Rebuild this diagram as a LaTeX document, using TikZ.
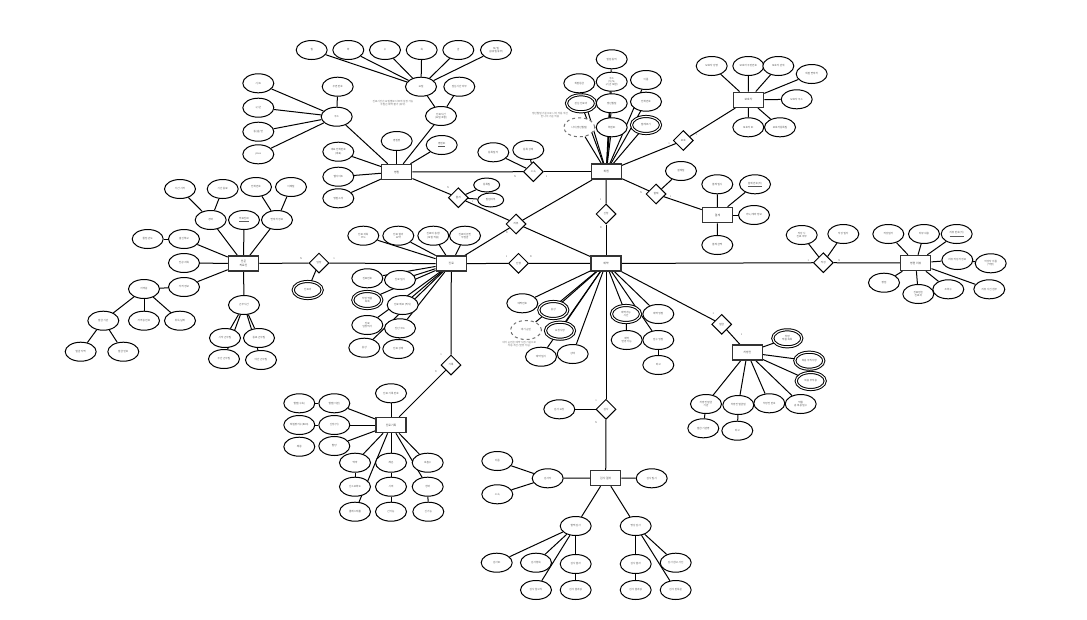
\documentclass[tikz,border=0pt]{standalone}
\usepackage{fontspec}
\newfontfamily\kr{Noto Sans CJK KR}
\usetikzlibrary{shapes.geometric,backgrounds}
\tikzset{
  attr/.style={ellipse, draw, line width=1pt, fill=white, minimum width=31pt, minimum height=19pt, inner sep=0pt, font=\kr\fontsize{2.6}{3.1}\selectfont, text=black!65, align=center},
  mval/.style={attr, double, double distance=1.1pt, minimum width=29pt, minimum height=17pt},
  deriv/.style={attr, dashed, draw=black!55},
  ent/.style={rectangle, draw=black!80, line width=1.5pt, fill=white, minimum width=30pt, minimum height=15pt, inner sep=0pt, font=\kr\fontsize{2.8}{3.2}\selectfont, text=black!70, align=center},
  rel/.style={diamond, draw, line width=1pt, fill=white, minimum width=20pt, minimum height=20pt, inner sep=0pt, font=\kr\fontsize{2.6}{3}\selectfont, text=black!70},
  card/.style={font=\kr\fontsize{2.6}{3}\selectfont, text=black!55, inner sep=0pt},
  note/.style={font=\kr\fontsize{2.6}{3.1}\selectfont, text=black!55, align=center, inner sep=0pt},
  ln/.style={line width=1pt}
}
\begin{document}
\begin{tikzpicture}[x=1pt,y=-1pt]
\useasboundingbox (0,0) rectangle (1087,619);

% ---------- E1 ----------
\node[ent] (E1) at (243.5,263.5) {전문\\의료진};
\node[attr] (p1) at (180,189) {기간 시작};
\node[attr] (p2) at (222.7,189) {기간 종료};
\node[attr] (p3) at (256,187) {전화번호};
\node[attr] (p4) at (291,187) {이메일};
\node[attr] (p5) at (210.7,220) {경력};
\node[attr] (p6) at (244,220) {\underline{의료진ID}};
\node[attr] (p7) at (277,220) {연락처 정보};
\node[attr] (p8) at (147.7,239) {졸업 년도};
\node[attr] (p9) at (184,239) {출신학교};
\node[attr] (p10) at (184,263) {전공 과목};
\node[attr] (p11) at (184,287) {자격 정보};
\node[attr] (p12) at (144,289) {자격증};
\node[attr] (p13) at (103.3,320.7) {발급 기관};
\node[attr] (p14) at (144,320.7) {자격증 번호};
\node[attr] (p15) at (180,320.7) {취득 날짜};
\node[attr] (p16) at (80.7,351.7) {발급 지역};
\node[attr] (p17) at (123.3,351.7) {발급 번호};
\node[attr] (p18) at (244,305) {근무시간};
\node[attr] (p19) at (225,338) {시작 근무일};
\node[attr] (p20) at (259,338) {종료 근무일};
\node[attr] (p21) at (224,359) {주간 근무일};
\node[attr] (p22) at (261,360) {야간 근무일};
\node[rel] (R1) at (319,263) {담당};
\node[mval] (pm1) at (307.7,290) {진료과};

% ---------- E3 ----------
\node[ent] (E3) at (396.7,172) {병원};
\node[attr] (d1) at (311.7,50) {월};
\node[attr] (d2) at (348.3,50) {화};
\node[attr] (d3) at (385,50) {수};
\node[attr] (d4) at (421.7,50) {목};
\node[attr] (d5) at (458.3,50) {금};
\node[attr] (d6) at (496,50) {토/일\\(공휴일 휴무)};
\node[attr] (dh1) at (421,86.7) {요일};
\node[attr] (dh2) at (459.3,86.7) {점심시간 여부};
\node[attr] (dh3) at (441,116) {진료시간\\(요일 포함)};
\node[attr] (ad0) at (336.7,116.7) {주소};
\node[attr] (ad1) at (337.7,86.7) {우편 번호};
\node[attr] (ad2) at (258.3,83.3) {시/도};
\node[attr] (ad3) at (258.3,107.7) {구/군};
\node[attr] (ad4) at (258.3,131.7) {동/읍/면};
\node[attr] (ad5) at (258.3,154.3) {pass};
\node[attr] (h1) at (396.7,141) {병원명};
\node[attr] (h2) at (441.7,145) {\underline{병원ID}};
\node[attr] (h3) at (338.3,151.7) {대표 전화번호\\(대표)};
\node[attr] (h4) at (338.3,176.7) {웹사이트};
\node[attr] (h5) at (338.3,198.3) {병원소개};
\node[note] at (393,103) {진료시간은 요일별로 다르게 설정 가능\\주말은 예약 불가 (휴무)};
\node[rel] (R2) at (533.3,171.7) {소속};
\node[attr] (s1) at (493.3,152.3) {등록일 자};
\node[attr] (s2) at (528.3,150) {등록 상태};
\node[rel] (R3) at (458.3,197.7) {즐겨};
\node[attr, minimum width=26pt, minimum height=14pt] (s3) at (486.7,185) {등록일};
\node[attr, minimum width=26pt, minimum height=14pt] (s4) at (490.7,200) {알림여부};

% ---------- E4 ----------
\node[ent] (E4) at (606.3,171.7) {회원};
\node[attr] (m1) at (611.7,59.3) {알림 동의};
\node[attr] (m2) at (579.3,83.3) {회원등급};
\node[attr] (m3) at (611.7,81.7) {주소\\(시/도,\\구/군 포함)};
\node[attr] (m4) at (646,80) {이름};
\node[mval] (m5) at (581,103.3) {관심 진료과};
\node[attr] (m6) at (611.7,103.3) {생년월일};
\node[attr] (m7) at (646,101.7) {전화번호};
\node[deriv] (m8) at (579.3,127.3) {나이(생년월일)};
\node[attr] (m9) at (611.7,127.3) {회원ID};
\node[mval] (m10) at (646,125) {알레르기};
\node[note] at (550,115) {생년월일 기준으로 나이 자동 계산\\만 나이 기준 적용};
\node[rel] (R5) at (683.3,140.5) {보호};
\node[rel] (R6) at (606,214) {신청};
\node[rel] (R7) at (656,194) {결제};
\node[attr] (f0) at (681,171) {결제일};
\node[rel] (R4) at (516,224) {리뷰};

% ---------- E7 ----------
\node[ent] (E7) at (748.5,99.8) {보호자};
\node[attr] (b1) at (711.7,66) {보호자 성명};
\node[attr] (b2) at (748.3,66) {보호자 주민번호};
\node[attr] (b3) at (778.3,66) {보호자 관계};
\node[attr] (b4) at (811.7,74) {회원 연락처};
\node[attr] (b5) at (796.7,99.3) {보호자 주소};
\node[attr] (b6) at (748.3,127.3) {보호자 ID};
\node[attr] (b7) at (780,127.3) {보호자등록일};

% ---------- E6 ----------
\node[ent] (E6) at (717.5,215) {결제};
\node[attr] (f1) at (717.3,184.3) {결제 일시};
\node[attr] (f2) at (755,184.3) {\underline{결제 번호(키)}};
\node[attr] (f3) at (754,215) {카드/계좌 정보};
\node[attr] (f4) at (717.3,245) {결제 금액};

% ---------- E2 ----------
\node[ent] (E2) at (451.3,263.7) {진료};
\node[attr] (j1) at (363.3,235.7) {진료 과목\\코드};
\node[attr] (j2) at (398.3,235.7) {진료 결과\\요약};
\node[attr] (j3) at (433.3,235.7) {진료비 총 합\\(보험 적용)};
\node[attr] (j4) at (465,235.7) {진료비 본인\\부담금};
\node[attr] (j5) at (367.3,278.3) {진료번호};
\node[attr] (j6) at (400,280) {진료 일시};
\node[mval] (j7) at (367.3,300) {처방 약품\\목록};
\node[attr] (j8) at (402.7,305) {진료 메모 (의사)};
\node[attr] (j9) at (367.3,325) {진료\\담당의사};
\node[attr] (j10) at (400,328.3) {진단 코드};
\node[attr] (j11) at (364.3,347.7) {증상};
\node[attr] (j12) at (398.3,349) {진료 상태};
\node[rel] (R8) at (518.5,263.3) {진행};
\node[rel] (R9) at (451,365) {기록};

% ---------- E9 ----------
\node[ent] (E9) at (391,425) {진료기록};
\node[attr] (k0) at (391,393.3) {진료 기록 번호};
\node[attr] (k1) at (299.3,403.3) {혈압(수축)};
\node[attr] (k2) at (334.3,403.3) {혈압(이완)};
\node[attr] (k3) at (299.3,425) {체질량지수(BMI)};
\node[attr] (k4) at (334.3,425) {신장(키)};
\node[attr] (k5) at (299.3,446.7) {체중};
\node[attr] (k6) at (334.3,446) {혈당};
\node[attr] (k7) at (355,462.7) {맥박};
\node[attr] (k8) at (391,462.7) {체온};
\node[attr] (k9) at (427.7,462.7) {호흡수};
\node[attr] (k10) at (355,486.7) {산소포화도};
\node[attr] (k11) at (391,486.7) {시력};
\node[attr] (k12) at (427.7,486.7) {청력};
\node[attr] (k13) at (355,511.7) {콜레스테롤};
\node[attr] (k14) at (391,511.7) {간기능};
\node[attr] (k15) at (428.3,511.7) {신기능};

% ---------- E5 ----------
\node[ent] (E5) at (606,263.5) {예약};
\node[attr] (y1) at (522.3,303.3) {예약번호};
\node[mval] (y2) at (553.3,310) {증상};
\node[deriv] (y3) at (526,330) {대기 순번};
\node[mval] (y4) at (560,330.7) {요청사항};
\node[attr] (y5) at (541,356.7) {예약 일시};
\node[attr] (y6) at (572.7,354) {상태};
\node[mval] (y7) at (626,314) {예약가능\\시간};
\node[attr] (y8) at (658.3,314) {예약 방법};
\node[attr] (y9) at (626.7,340) {예약\\변경 가능};
\node[attr] (y10) at (658.3,340) {접수 방법};
\node[attr] (y11) at (658.3,365) {비고};
\node[note] at (519.3,344.3) {대기 순번은 예약 시점 기준으로\\자동 계산 (변경 가능)};
\node[rel] (R10) at (721.7,324.3) {발급};
\node[rel] (R11) at (823.3,262.7) {작성};
\node[attr] (q1) at (801.7,235) {작성 시\\진료 여부};
\node[attr] (q2) at (843.3,234) {작성 일자};
\node[rel] (R12) at (606,409.3) {검사};
\node[attr] (g0) at (559.3,409.3) {검사 요청};

% ---------- E10 ----------
\node[ent] (E10) at (747.3,352.5) {처방전};
\node[mval] (z1) at (787.3,338.3) {처방\\약품 목록};
\node[mval] (z2) at (809.3,360.7) {복용 주의사항};
\node[mval] (z3) at (810.7,381) {복용 부작용};
\node[attr] (z4) at (706,404) {처방전 발급\\기관};
\node[attr] (z5) at (738.3,405) {처방전 발급일};
\node[attr] (z6) at (769.3,403.3) {처방전 번호};
\node[attr] (z7) at (800.7,404) {약품\\총 복용 일수};
\node[attr] (z8) at (703.3,428.3) {발급 기관명};
\node[attr] (z9) at (737.3,430.7) {비고};

% ---------- E8 ----------
\node[ent] (E8) at (915.7,263) {병원 리뷰};
\node[attr] (r1) at (888.3,234) {작성일자};
\node[attr] (r2) at (924,234) {리뷰 내용};
\node[attr] (r3) at (956.7,234) {\underline{리뷰 번호(키)}};
\node[attr] (r4) at (957.3,260) {리뷰 작성자 정보};
\node[attr] (r5) at (990.7,263.3) {작성자 이름\\(익명)};
\node[attr] (r6) at (884,282.7) {평점};
\node[attr] (r7) at (918.3,294) {진료받은\\진료과};
\node[attr] (r8) at (948.3,289.3) {조회수};
\node[attr] (r9) at (989.3,289.3) {리뷰 사진 첨부};

% ---------- E11 ----------
\node[ent] (E11) at (605.7,478) {검사 결과};
\node[attr] (g1) at (651.7,478.3) {검사 일시};
\node[attr] (g2) at (547.7,478.3) {검사자};
\node[attr] (g3) at (497.3,461) {이름};
\node[attr] (g4) at (497.3,494.3) {소속};
\node[attr] (g5) at (575.7,526) {혈액 검사};
\node[attr] (g6) at (635.7,526) {영상 검사};
\node[attr] (g7) at (496.7,562.7) {검사ID};
\node[attr] (g8) at (536,562.7) {검사항목};
\node[attr] (g9) at (575.7,564) {검사 결과};
\node[attr] (g10) at (536,590) {검사 참고치};
\node[attr] (g11) at (575.7,590) {검사 결과값};
\node[attr] (g12) at (635.7,564) {검사 결과};
\node[attr] (g13) at (675.7,562.7) {검사 참고 사진};
\node[attr] (g14) at (635.7,590) {검사 결과값};
\node[attr] (g15) at (675.7,590) {검사 판독문};

% ---------- cardinalities ----------
\node[card] at (301,259) {N};   \node[card] at (334,259) {1};
\node[card] at (515,176.7) {N}; \node[card] at (546.7,176.7) {1};
\node[card] at (448,188) {N};   \node[card] at (472.7,201.7) {1};
\node[card] at (526.7,219) {1}; \node[card] at (506.7,233) {N};
\node[card] at (669,144) {1};   \node[card] at (696.7,135) {1};
\node[card] at (600.7,200) {1}; \node[card] at (600.7,228) {N};
\node[card] at (641,192.7) {N}; \node[card] at (670.7,196.7) {1};
\node[card] at (506.7,256.7) {1}; \node[card] at (530.7,256.7) {N};
\node[card] at (441,355) {1};   \node[card] at (435.7,371.7) {N};
\node[card] at (713.3,313.3) {1}; \node[card] at (741.7,334.3) {1};
\node[card] at (808.3,260.7) {1}; \node[card] at (839.3,260.7) {N};
\node[card] at (596,400.7) {1}; \node[card] at (596,423) {N};

% ---------- connectors ----------
\begin{scope}[on background layer]
\fill[white] (0,0) rectangle (1087,619);
\foreach \a/\b in {p1/p5,p2/p5,p5/E1,p6/E1,p3/p7,p4/p7,p7/E1,p8/p9,p9/E1,p10/E1,p11/E1,p11/p12,p12/p13,p12/p14,p12/p15,p13/p16,p13/p17,E1/p18,p18/p19,p18/p20,p18/p21,p18/p22,E1/R1,R1/E2,R1/pm1,
 d1/dh1,d2/dh1,d3/dh1,d4/dh1,d5/dh1,d6/dh1,dh1/dh3,dh2/dh3,dh3/E3,ad1/ad0,ad2/ad0,ad3/ad0,ad4/ad0,ad5/ad0,ad0/E3,h1/E3,h2/E3,h3/E3,h4/E3,h5/E3,
 E3/R2,R2/E4,R2/s1,R2/s2,E3/R3,R3/E5,R3/s3,R3/s4,
 E4/m1,E4/m2,E4/m3,E4/m4,E4/m5,E4/m6,E4/m7,E4/m8,E4/m9,E4/m10,
 E4/R5,R5/E7,E7/b1,E7/b2,E7/b3,E7/b4,E7/b5,E7/b6,E7/b7,
 E4/R6,R6/E5,E4/R7,R7/E6,R7/f0,E6/f1,E6/f2,E6/f3,E6/f4,E4/R4,R4/E2,
 E2/j1,E2/j2,E2/j3,E2/j4,E2/j5,E2/j6,E2/j7,E2/j8,E2/j9,E2/j10,E2/j11,j10/j12,
 E2/R8,R8/E5,E2/R9,R9/E9,
 E9/k0,k1/k2,k2/E9,k3/k4,k4/E9,k6/E9,E9/k7,E9/k8,E9/k9,E9/k12,E9/k13,k7/k10,k8/k11,k11/k14,k12/k15,
 E5/y1,E5/y2,E5/y3,E5/y4,E5/y5,E5/y6,E5/y7,E5/y8,E5/y10,y7/y9,y10/y11,
 E5/R10,R10/E10,E10/z1,E10/z2,E10/z3,E10/z4,E10/z5,E10/z6,E10/z7,z4/z8,z5/z9,
 E5/R11,R11/E8,R11/q1,R11/q2,E8/r1,E8/r2,E8/r3,E8/r4,r4/r5,E8/r6,E8/r7,E8/r8,E8/r9,
 E5/R12,R12/E11,R12/g0,E11/g1,E11/g2,g2/g3,g2/g4,E11/g5,E11/g6,g5/g7,g5/g8,g5/g9,g5/g10,g9/g11,g6/g12,g6/g13,g6/g15,g12/g14}
  \draw[ln] (\a) -- (\b);
\end{scope}
\end{tikzpicture}
\end{document}
